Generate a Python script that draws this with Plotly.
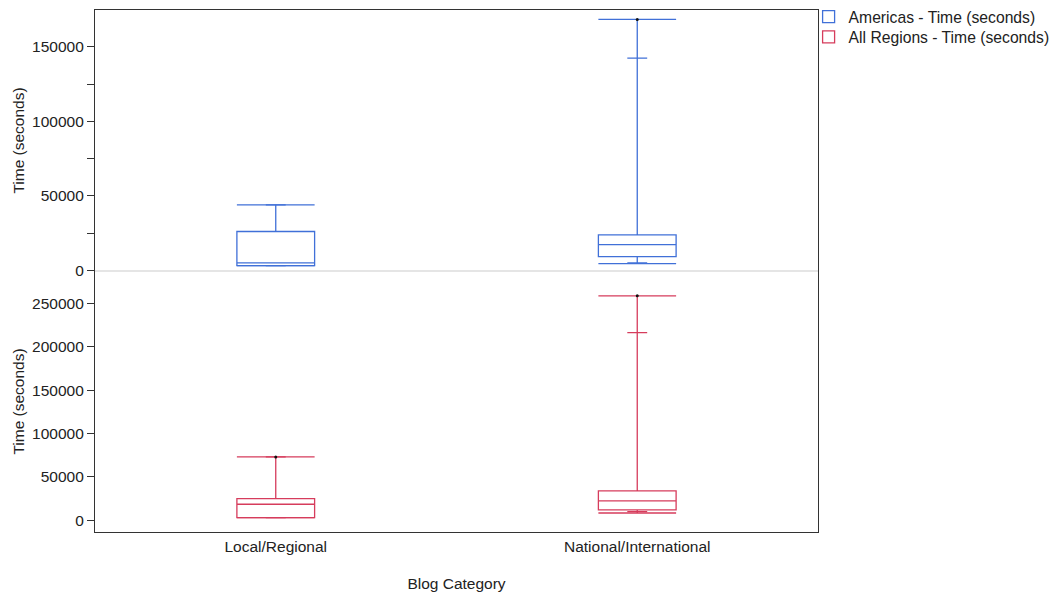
import plotly.graph_objects as go
from plotly.subplots import make_subplots

categories = ["Local/Regional", "National/International"]

# Americas - Time (seconds)
am_min = [3150, 4500]
am_lowcap = [3150, 4900]
am_q1 = [3150, 9200]
am_median = [4900, 17200]
am_q3 = [26000, 23700]
am_upcap = [43900, 142400]
am_max = [43900, 168400]
am_dot = [None, 168400]

# All Regions - Time (seconds)
ar_min = [3000, 8400]
ar_lowcap = [3000, 10000]
ar_q1 = [3000, 11900]
ar_median = [18500, 22300]
ar_q3 = [25000, 33900]
ar_upcap = [73000, 216400]
ar_max = [73000, 258800]
ar_dot = [73000, 258800]

BLUE = "#4070d8"
RED = "#d63c5c"
FONT = dict(family="Liberation Sans, Arial, sans-serif", size=15.5, color="#222")
LFONT = dict(family="Liberation Sans, Arial, sans-serif", size=15.7, color="#222")
BOXW = 0.215
CAPW = 0.055

fig = make_subplots(rows=2, cols=1, shared_xaxes=True, vertical_spacing=0)


def add_series(name, color, row, legend, mn, lowcap, q1, med, q3, upcap, mx, dot):
    fig.add_trace(go.Box(
        x=categories, q1=q1, median=med, q3=q3, lowerfence=mn, upperfence=mx,
        name=name, width=BOXW, whiskerwidth=0, line=dict(color=color, width=1.3),
        fillcolor="rgba(255,255,255,0)", boxpoints=False, showlegend=True,
        legend=legend, legendgroup=name), row=row, col=1)
    for vals, w in [(mx, BOXW), (mn, BOXW), (upcap, CAPW), (lowcap, CAPW)]:
        fig.add_trace(go.Box(
            x=categories, q1=vals, median=vals, q3=vals, lowerfence=vals, upperfence=vals,
            width=w, whiskerwidth=0, line=dict(color=color, width=1.3),
            fillcolor="rgba(255,255,255,0)", boxpoints=False, showlegend=False,
            legendgroup=name, hoverinfo="skip"), row=row, col=1)
    fig.add_trace(go.Scatter(
        x=categories, y=dot, mode="markers", marker=dict(color="#111", size=3),
        showlegend=False, hoverinfo="skip"), row=row, col=1)


add_series("Americas - Time (seconds)", BLUE, 1, "legend", am_min, am_lowcap, am_q1,
           am_median, am_q3, am_upcap, am_max, am_dot)
add_series("All Regions - Time (seconds)", RED, 2, "legend2", ar_min, ar_lowcap, ar_q1,
           ar_median, ar_q3, ar_upcap, ar_max, ar_dot)

yax = dict(showgrid=False, zeroline=False, showline=True, linecolor="#333", linewidth=1.2,
           mirror=True, ticks="outside", ticklen=7, tickcolor="#333", automargin=False,
           tickfont=FONT, title=dict(text="Time (seconds)", font=FONT, standoff=3))

fig.update_yaxes(**yax, range=[-500, 174700], tickvals=[0, 50000, 100000, 150000],
                 ticktext=["0", "50000", "100000", "150000"],
                 minor=dict(tickvals=[25000, 75000, 125000], ticks="outside", ticklen=7,
                            tickcolor="#333"),
                 row=1, col=1)
fig.update_yaxes(**yax, range=[-13500, 287400],
                 tickvals=[0, 50000, 100000, 150000, 200000, 250000],
                 ticktext=["0", "50000", "100000", "150000", "200000", "250000"],
                 row=2, col=1)

fig.update_xaxes(showgrid=False, zeroline=False, range=[-0.5, 1.5], type="category",
                 tickfont=FONT, ticks="", showline=True, linecolor="#333", linewidth=1.2,
                 automargin=False)
fig.update_xaxes(side="top", showticklabels=False, row=1, col=1)
fig.update_xaxes(title=dict(text="Blog Category", font=FONT, standoff=24), row=2, col=1)

fig.add_shape(type="line", xref="paper", yref="paper", x0=0, x1=1, y0=0.5, y1=0.5,
              line=dict(color="#dddddd", width=1.5))

leg = dict(x=0.987, xanchor="left", yanchor="middle", font=LFONT,
           bgcolor="rgba(255,255,255,0)")
fig.update_layout(
    width=1051, height=585,
    margin=dict(l=87, r=241, t=2, b=61, autoexpand=False),
    paper_bgcolor="white", plot_bgcolor="white",
    font=FONT, boxmode="overlay",
    legend=dict(**leg, y=0.9866),
    legend2=dict(**leg, y=0.948),
)

fig.write_html("out.html")
